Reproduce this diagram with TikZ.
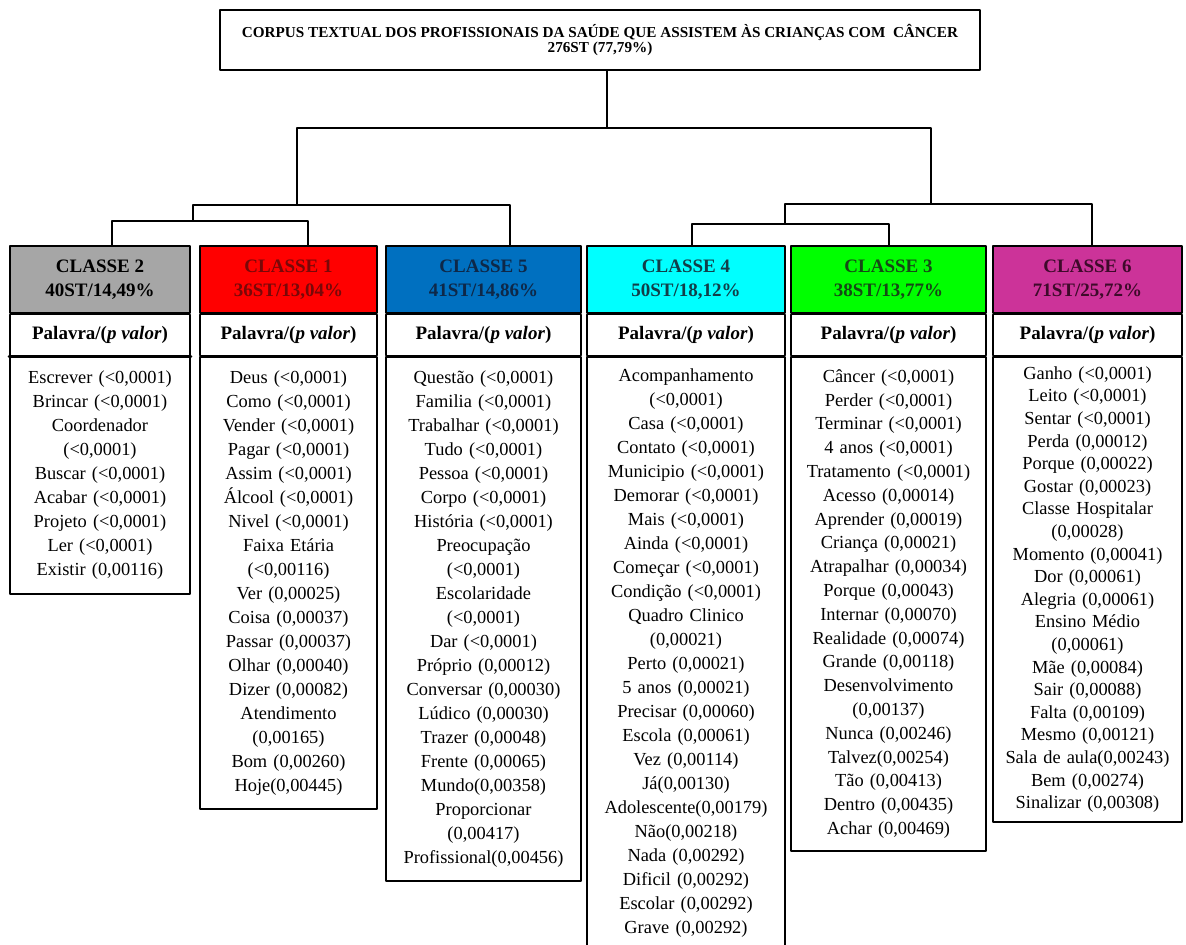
\documentclass[tikz,border=0pt]{standalone}
\usepackage{fontspec}
\setmainfont{Liberation Serif}
\usetikzlibrary{positioning}

\definecolor{cinza}{RGB}{166,166,166}
\definecolor{vermelho}{RGB}{255,0,0}
\definecolor{azul}{RGB}{0,112,192}
\definecolor{ciano}{RGB}{0,255,255}
\definecolor{verde}{RGB}{0,255,0}
\definecolor{magenta}{RGB}{204,51,153}
\definecolor{txvermelho}{RGB}{120,8,8}
\definecolor{txazul}{RGB}{14,40,72}
\definecolor{txciano}{RGB}{18,62,72}
\definecolor{txverde}{RGB}{22,72,22}
\definecolor{txmagenta}{RGB}{62,10,42}

\tikzset{
  cabeca/.style={draw, line width=0.8pt, anchor=north, minimum height=33.5pt, inner sep=0pt, align=center, font=\fontsize{9.5}{12}\selectfont\bfseries},
  palavra/.style={draw, line width=0.8pt, minimum height=20.5pt, inner sep=0pt, font=\fontsize{9.5}{11}\selectfont\bfseries},
  lista/.style={draw, line width=0.8pt, inner xsep=0pt, inner ysep=0pt, align=center, font=\fontsize{9.2}{#1}\selectfont},
  lista/.default=12pt,
  ramo/.style={line width=0.7pt}
}

\begin{document}
\begin{tikzpicture}[line cap=round,line join=round,x=0.5pt,y=-0.5pt]
\useasboundingbox (0,0) rectangle (1186,944);

\node[draw, line width=0.8pt, minimum width=380pt, minimum height=30pt, inner sep=0pt, align=center, font=\fontsize{7.6}{7.2}\selectfont\bfseries] (titulo) at (600,40) {CORPUS TEXTUAL DOS PROFISSIONAIS DA SAÚDE QUE ASSISTEM ÀS CRIANÇAS COM\ \ CÂNCER\\276ST (77,79\%)};

\node[cabeca, fill=cinza, minimum width=90pt] (hc2) at (100,245) {CLASSE 2\\40ST/14,49\%};
\node[cabeca, fill=vermelho, text=txvermelho, minimum width=88.5pt] (hc1) at (288.5,245) {CLASSE 1\\36ST/13,04\%};
\node[cabeca, fill=azul, text=txazul, minimum width=97.5pt] (hc5) at (483.5,245) {CLASSE 5\\41ST/14,86\%};
\node[cabeca, fill=ciano, text=txciano, minimum width=99pt] (hc4) at (686,245) {CLASSE 4\\50ST/18,12\%};
\node[cabeca, fill=verde, text=txverde, minimum width=97.5pt] (hc3) at (888.5,245) {CLASSE 3\\38ST/13,77\%};
\node[cabeca, fill=magenta, text=txmagenta, minimum width=94.5pt] (hc6) at (1087.5,245) {CLASSE 6\\71ST/25,72\%};

\node[palavra, below=0pt of hc2, minimum width=90pt] (pc2) {Palavra/(\textit{p valor})};
\node[palavra, below=0pt of hc1, minimum width=88.5pt] (pc1) {Palavra/(\textit{p valor})};
\node[palavra, below=0pt of hc5, minimum width=97.5pt] (pc5) {Palavra/(\textit{p valor})};
\node[palavra, below=0pt of hc4, minimum width=99pt] (pc4) {Palavra/(\textit{p valor})};
\node[palavra, below=0pt of hc3, minimum width=97.5pt] (pc3) {Palavra/(\textit{p valor})};
\node[palavra, below=0pt of hc6, minimum width=94.5pt] (pc6) {Palavra/(\textit{p valor})};

\node[lista, below=0pt of pc2, text width=90pt, minimum height=118.5pt] (lc2) {Escrever (<0,0001)\\Brincar (<0,0001)\\Coordenador\\(<0,0001)\\Buscar (<0,0001)\\Acabar (<0,0001)\\Projeto (<0,0001)\\Ler (<0,0001)\\Existir (0,00116)};
\node[lista, below=0pt of pc1, text width=88.5pt, minimum height=226pt] (lc1) {Deus (<0,0001)\\Como (<0,0001)\\Vender (<0,0001)\\Pagar (<0,0001)\\Assim (<0,0001)\\Álcool (<0,0001)\\Nivel (<0,0001)\\Faixa Etária\\(<0,00116)\\Ver (0,00025)\\Coisa (0,00037)\\Passar (0,00037)\\Olhar (0,00040)\\Dizer (0,00082)\\Atendimento\\(0,00165)\\Bom (0,00260)\\Hoje(0,00445)};
\node[lista, below=0pt of pc5, text width=97.5pt, minimum height=262pt] (lc5) {Questão (<0,0001)\\Familia (<0,0001)\\Trabalhar (<0,0001)\\Tudo (<0,0001)\\Pessoa (<0,0001)\\Corpo (<0,0001)\\História (<0,0001)\\Preocupação\\(<0,0001)\\Escolaridade\\(<0,0001)\\Dar (<0,0001)\\Próprio (0,00012)\\Conversar (0,00030)\\Lúdico (0,00030)\\Trazer (0,00048)\\Frente (0,00065)\\Mundo(0,00358)\\Proporcionar\\(0,00417)\\Profissional(0,00456)};
\node[lista, below=0pt of pc4, text width=99pt, minimum height=296pt] (lc4) {Acompanhamento\\(<0,0001)\\Casa (<0,0001)\\Contato (<0,0001)\\Municipio (<0,0001)\\Demorar (<0,0001)\\Mais (<0,0001)\\Ainda (<0,0001)\\Começar (<0,0001)\\Condição (<0,0001)\\Quadro Clinico\\(0,00021)\\Perto (0,00021)\\5 anos (0,00021)\\Precisar (0,00060)\\Escola (0,00061)\\Vez (0,00114)\\Já(0,00130)\\Adolescente(0,00179)\\Não(0,00218)\\Nada (0,00292)\\Dificil (0,00292)\\Escolar (0,00292)\\Grave (0,00292)};
\node[lista=11.9pt, below=0pt of pc3, text width=97.5pt, minimum height=247pt] (lc3) {Câncer (<0,0001)\\Perder (<0,0001)\\Terminar (<0,0001)\\4 anos (<0,0001)\\Tratamento (<0,0001)\\Acesso (0,00014)\\Aprender (0,00019)\\Criança (0,00021)\\Atrapalhar (0,00034)\\Porque (0,00043)\\Internar (0,00070)\\Realidade (0,00074)\\Grande (0,00118)\\Desenvolvimento\\(0,00137)\\Nunca (0,00246)\\Talvez(0,00254)\\Tão (0,00413)\\Dentro (0,00435)\\Achar (0,00469)};
\node[lista=11.3pt, below=0pt of pc6, text width=94.5pt, minimum height=232.5pt] (lc6) {Ganho (<0,0001)\\Leito (<0,0001)\\Sentar (<0,0001)\\Perda (0,00012)\\Porque (0,00022)\\Gostar (0,00023)\\Classe Hospitalar\\(0,00028)\\Momento (0,00041)\\Dor (0,00061)\\Alegria (0,00061)\\Ensino Médio\\(0,00061)\\Mãe (0,00084)\\Sair (0,00088)\\Falta (0,00109)\\Mesmo (0,00121)\\Sala de aula(0,00243)\\Bem (0,00274)\\Sinalizar (0,00308)};
\draw[line width=1.6pt] (pc2.south west) -- (pc2.south east);

\coordinate (r0) at (607,128);
\coordinate (rl) at (297,205);
\coordinate (rr) at (931,204);
\coordinate (rll) at (193,221);
\coordinate (rrl) at (785,224);
\coordinate (c2) at (112,245);
\coordinate (c1) at (308,245);
\coordinate (c5) at (510,245);
\coordinate (c4) at (692,245);
\coordinate (c3) at (889,245);
\coordinate (c6) at (1092,245);
\draw[ramo] (titulo.south -| r0) -- (r0);
\draw[ramo] (rl) |- (r0) -| (rr);
\draw[ramo] (rll) |- (rl) -| (c5);
\draw[ramo] (c2) |- (rll) -| (c1);
\draw[ramo] (rrl) |- (rr) -| (c6);
\draw[ramo] (c4) |- (rrl) -| (c3);
\end{tikzpicture}
\end{document}
